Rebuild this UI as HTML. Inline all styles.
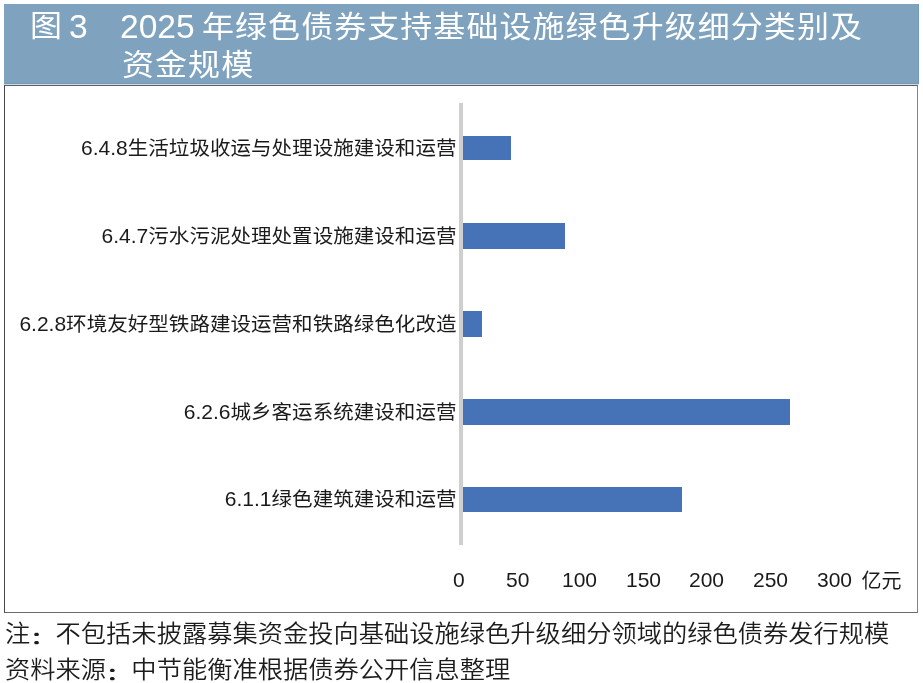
<!DOCTYPE html>
<html lang="zh-CN">
<head>
<meta charset="utf-8">
<title>图 3 2025 年绿色债券支持基础设施绿色升级细分类别及资金规模</title>
<style>
html,body{margin:0;padding:0;background:#fff;}
body{width:923px;height:683px;position:relative;overflow:hidden;font-family:"Liberation Sans","Noto Sans CJK SC",sans-serif;}
.abs{position:absolute;white-space:nowrap;}
#hdr{left:4px;top:4px;width:915px;height:80px;background:#7fa3be;box-shadow:inset -1px -1px 0 #7199b8;}
.title{color:#fff;font-size:32px;line-height:38px;font-weight:400;letter-spacing:1.05px;transform:scaleY(0.94);transform-origin:0 50%;}
.tlat{color:#fff;font-size:33.6px;line-height:38px;}
#box{left:4px;top:85px;width:912px;height:526px;border:1px solid #555;border-color:#625e5e #848182 #6a6868 #484646;background:#fff;box-sizing:content-box;}
#hl{left:4px;top:84px;width:915px;height:1px;background:#c9dbe8;}
#axis{left:459px;top:103px;width:4px;height:442px;background:#cfcfd0;}
.bar{background:#4673b8;left:463px;}
.lab{color:#1a1a1a;font-size:20.55px;line-height:24px;right:466.5px;text-align:right;}
.lab .n{font-size:21px;}
.lab .c{display:inline-block;transform:scaleY(0.96);transform-origin:50% 62%;}
.tick{color:#1a1a1a;font-size:21px;line-height:24px;}
.note{color:#1c1c1c;font-size:25.27px;line-height:35px;left:5px;font-weight:350;transform:scaleY(0.94);transform-origin:0 82%;}
.col{display:inline-block;font-weight:700;transform:translateY(1.5px) scaleY(0.72);transform-origin:50% 78%;}
</style>
</head>
<body>
<div id="hdr" class="abs"></div>
<div class="abs title" style="left:30px;top:7px;">图</div>
<div class="abs tlat" style="left:69px;top:8px;">3</div>
<div class="abs tlat" style="left:120px;top:8px;">2025</div>
<div class="abs title" style="left:202px;top:8px;">年绿色债券支持基础设施绿色升级细分类别及</div>
<div class="abs title" style="left:122px;top:46px;">资金规模</div>

<div id="hl" class="abs"></div>
<div id="box" class="abs"></div>
<div id="axis" class="abs"></div>

<div class="abs bar" style="top:136px;height:24px;width:47.5px;"></div>
<div class="abs bar" style="top:222.5px;height:26px;width:102px;"></div>
<div class="abs bar" style="top:311px;height:26px;width:18.8px;"></div>
<div class="abs bar" style="top:399px;height:26px;width:326.5px;"></div>
<div class="abs bar" style="top:487px;height:25px;width:218.5px;"></div>

<div class="abs lab" style="top:136px;"><span class="n">6.4.8</span><span class="c">生活垃圾收运与处理设施建设和运营</span></div>
<div class="abs lab" style="top:224px;"><span class="n">6.4.7</span><span class="c">污水污泥处理处置设施建设和运营</span></div>
<div class="abs lab" style="top:312px;"><span class="n">6.2.8</span><span class="c">环境友好型铁路建设运营和铁路绿色化改造</span></div>
<div class="abs lab" style="top:400px;"><span class="n">6.2.6</span><span class="c">城乡客运系统建设和运营</span></div>
<div class="abs lab" style="top:487px;"><span class="n">6.1.1</span><span class="c">绿色建筑建设和运营</span></div>

<div class="abs tick" style="left:453px;top:568px;">0</div>
<div class="abs tick" style="left:506px;top:568px;">50</div>
<div class="abs tick" style="left:562px;top:568px;">100</div>
<div class="abs tick" style="left:626px;top:568px;">150</div>
<div class="abs tick" style="left:689px;top:568px;">200</div>
<div class="abs tick" style="left:753px;top:568px;">250</div>
<div class="abs tick" style="left:817px;top:568px;">300</div>
<div class="abs tick" style="left:861.5px;top:569px;font-size:20px;">亿元</div>

<div class="abs note" style="top:616px;">注<span class="col">：</span>不包括未披露募集资金投向基础设施绿色升级细分领域的绿色债券发行规模</div>
<div class="abs note" style="top:652px;">资料来源<span class="col">：</span>中节能衡准根据债券公开信息整理</div>
</body>
</html>
